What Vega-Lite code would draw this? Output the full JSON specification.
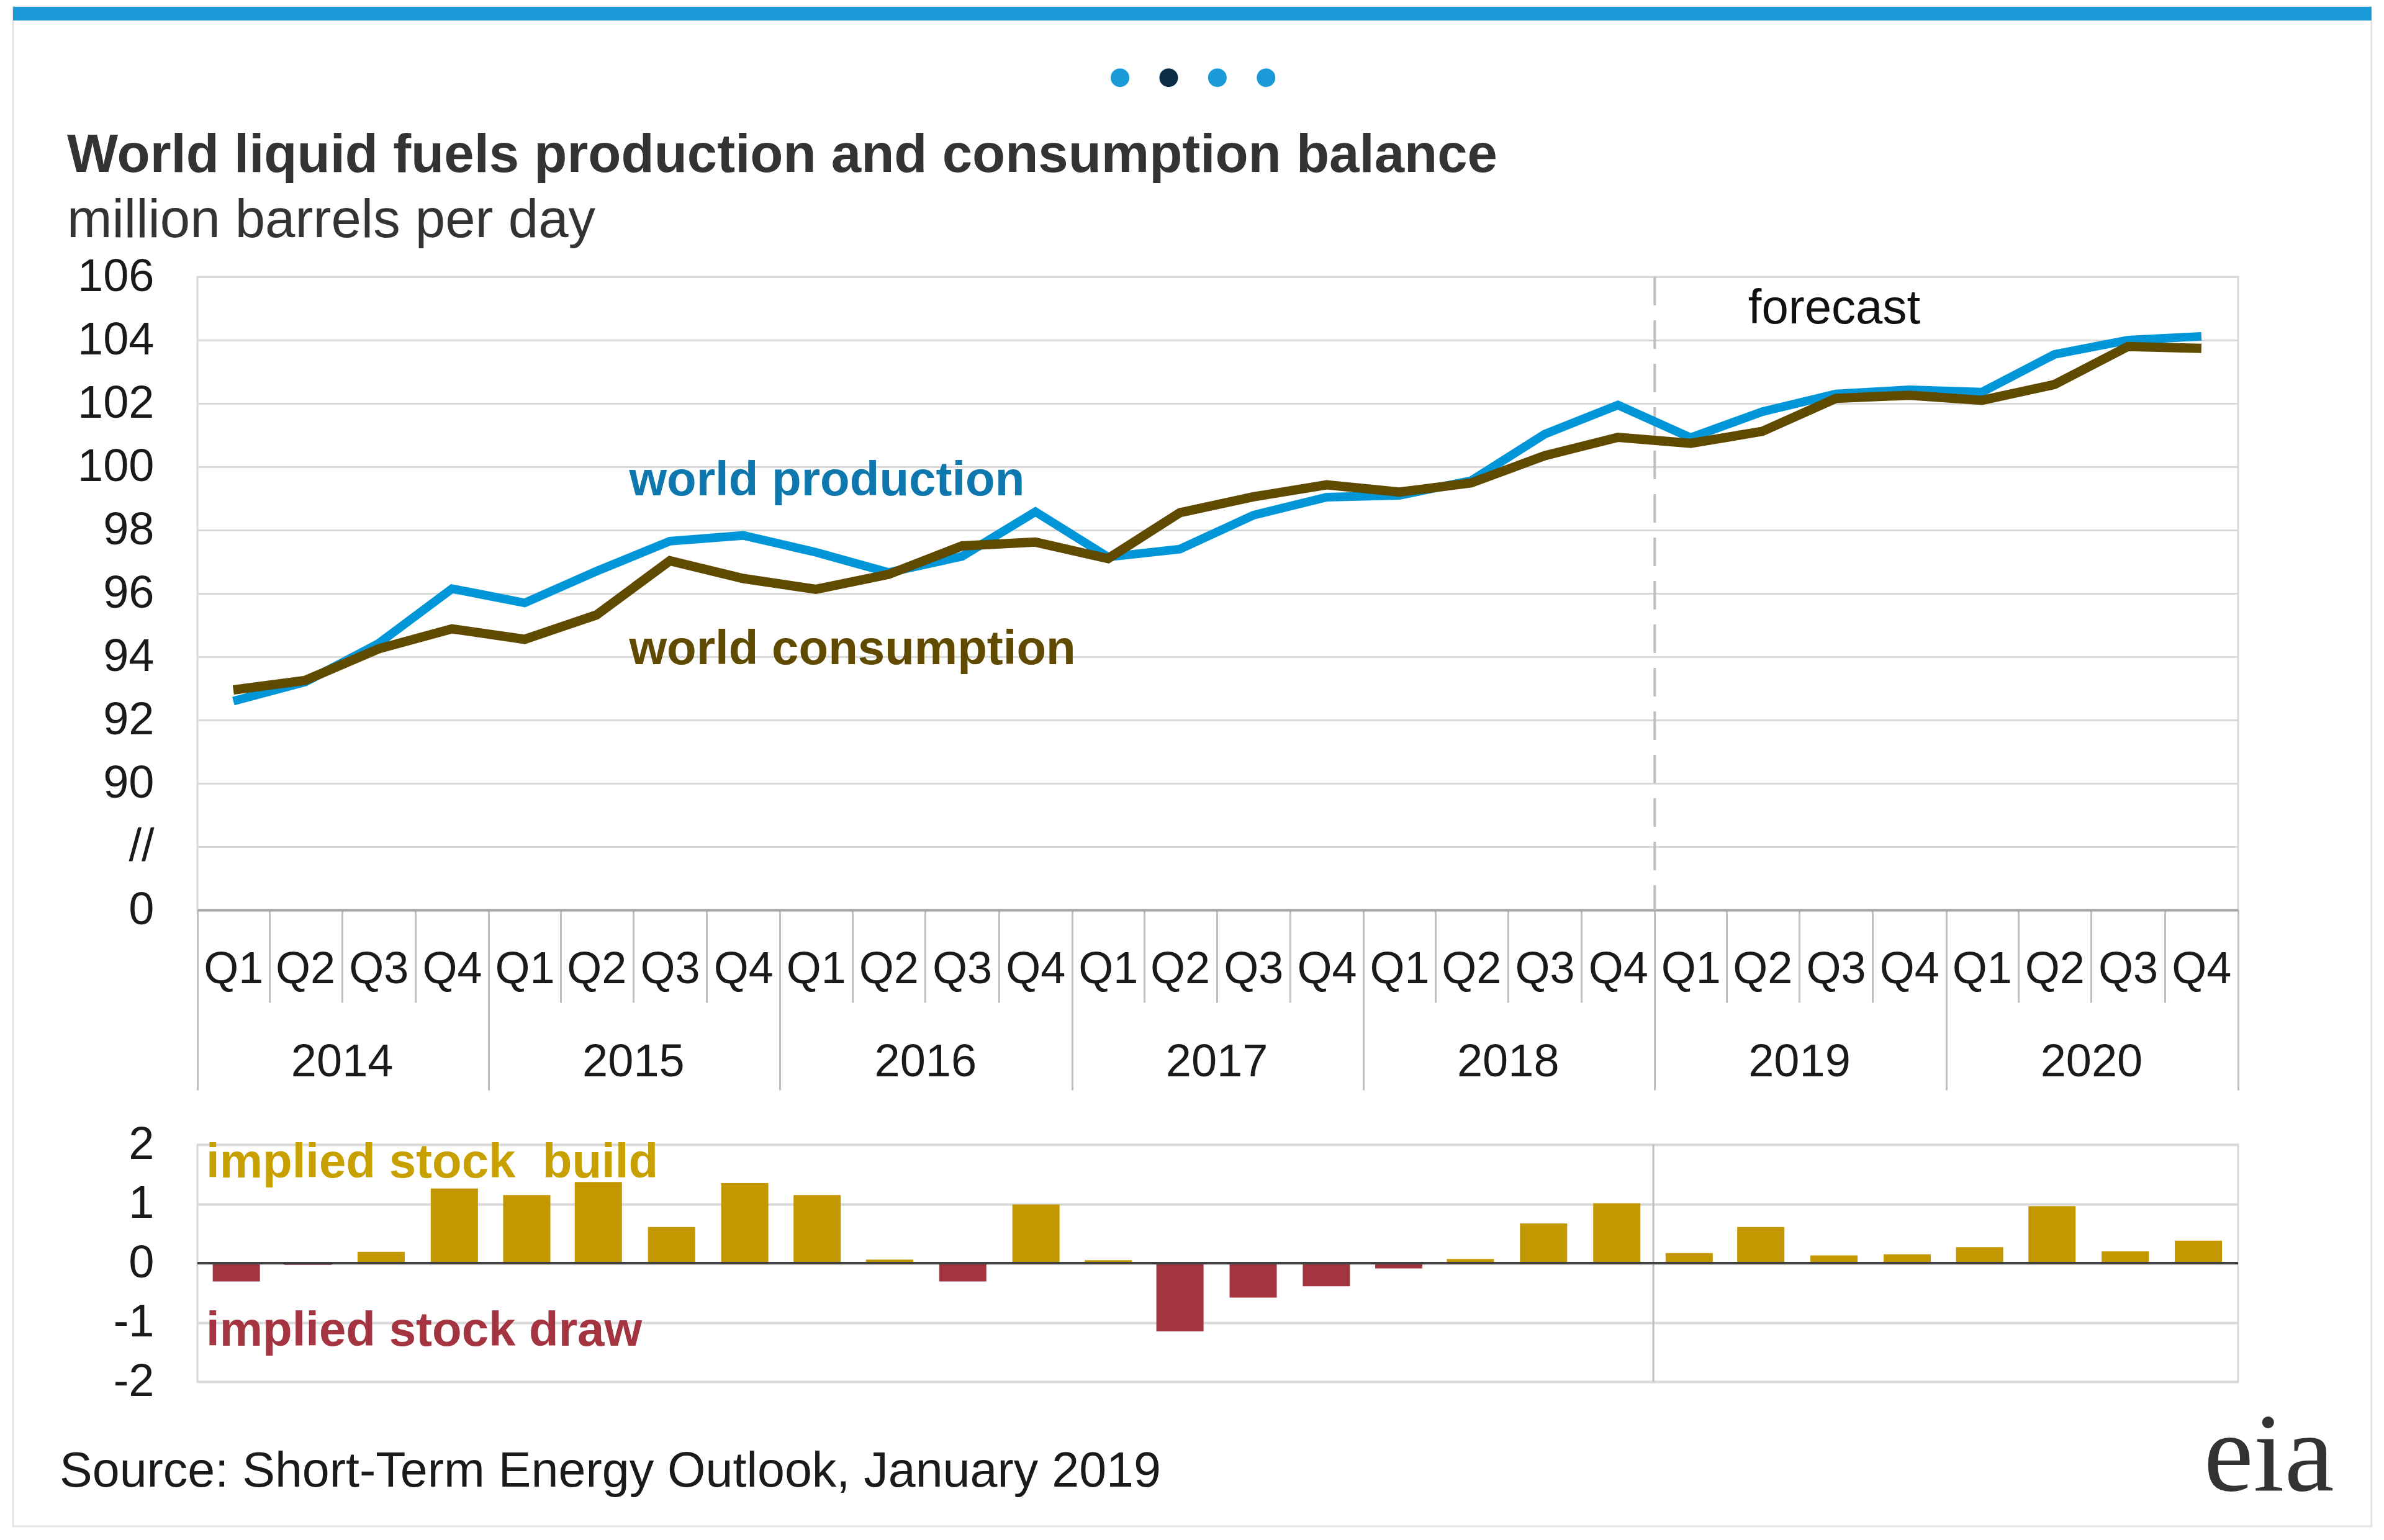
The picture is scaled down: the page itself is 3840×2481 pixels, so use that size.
{
  "$schema": "https://vega.github.io/schema/vega-lite/v6.json",
  "padding": {"left": 18, "top": 7, "right": 0, "bottom": 0},
  "background": "white",
  "config": {"font": "Liberation Sans"},
  "datasets": {
    "quarters": [
      {"date": "2014-02-15", "production": 92.6, "consumption": 92.95, "balance": -0.31},
      {"date": "2014-05-16", "production": 93.2, "consumption": 93.25, "balance": -0.03},
      {"date": "2014-08-16", "production": 94.42, "consumption": 94.25, "balance": 0.19},
      {"date": "2014-11-16", "production": 96.15, "consumption": 94.88, "balance": 1.26},
      {"date": "2015-02-15", "production": 95.7, "consumption": 94.55, "balance": 1.15},
      {"date": "2015-05-16", "production": 96.7, "consumption": 95.32, "balance": 1.37},
      {"date": "2015-08-16", "production": 97.65, "consumption": 97.03, "balance": 0.61},
      {"date": "2015-11-16", "production": 97.83, "consumption": 96.47, "balance": 1.35},
      {"date": "2016-02-15", "production": 97.3, "consumption": 96.13, "balance": 1.15},
      {"date": "2016-05-16", "production": 96.66, "consumption": 96.6, "balance": 0.06},
      {"date": "2016-08-16", "production": 97.17, "consumption": 97.5, "balance": -0.31},
      {"date": "2016-11-16", "production": 98.58, "consumption": 97.62, "balance": 0.99},
      {"date": "2017-02-15", "production": 97.15, "consumption": 97.1, "balance": 0.05},
      {"date": "2017-05-16", "production": 97.4, "consumption": 98.55, "balance": -1.15},
      {"date": "2017-08-16", "production": 98.47, "consumption": 99.05, "balance": -0.58},
      {"date": "2017-11-16", "production": 99.04, "consumption": 99.43, "balance": -0.39},
      {"date": "2018-02-15", "production": 99.1, "consumption": 99.2, "balance": -0.09},
      {"date": "2018-05-16", "production": 99.56, "consumption": 99.49, "balance": 0.07},
      {"date": "2018-08-16", "production": 101.03, "consumption": 100.35, "balance": 0.67},
      {"date": "2018-11-16", "production": 101.95, "consumption": 100.93, "balance": 1.01},
      {"date": "2019-02-15", "production": 100.92, "consumption": 100.74, "balance": 0.17},
      {"date": "2019-05-16", "production": 101.74, "consumption": 101.12, "balance": 0.61},
      {"date": "2019-08-16", "production": 102.3, "consumption": 102.16, "balance": 0.13},
      {"date": "2019-11-16", "production": 102.43, "consumption": 102.26, "balance": 0.15},
      {"date": "2020-02-15", "production": 102.36, "consumption": 102.1, "balance": 0.27},
      {"date": "2020-05-16", "production": 103.55, "consumption": 102.6, "balance": 0.96},
      {"date": "2020-08-16", "production": 104.0, "consumption": 103.8, "balance": 0.2},
      {"date": "2020-11-16", "production": 104.12, "consumption": 103.74, "balance": 0.38}
    ]
  },
  "bounds": "flush",
  "spacing": 378,
  "vconcat": [
    {
      "width": 3287,
      "height": 1020,
      "view": {"stroke": "#d9d9d9", "strokeWidth": 3},
      "title": {
        "text": "World liquid fuels production and consumption balance",
        "subtitle": "million barrels per day",
        "orient": "top",
        "anchor": "start",
        "frame": "group",
        "dx": -210,
        "offset": -391,
        "font": "Liberation Sans",
        "fontSize": 87,
        "fontWeight": "bold",
        "color": "#333333",
        "subtitleFont": "Liberation Sans",
        "subtitleFontSize": 87,
        "subtitleColor": "#333333",
        "subtitlePadding": 18
      },
      "resolve": {"axis": {"x": "independent"}},
      "layer": [
        {
          "data": {"values": [{}]},
          "mark": {"type": "rect", "fillOpacity": 0, "stroke": "#e3e3e3", "strokeWidth": 3},
          "encoding": {
            "x": {"datum": {"year": 2013, "month": 5, "date": 15, "utc": true}, "type": "temporal", "scale": {"type": "utc", "domain": [{"year": 2014, "month": 1, "date": 1, "utc": true}, {"year": 2021, "month": 1, "date": 1, "utc": true}]}, "axis": null},
            "x2": {"datum": {"year": 2021, "month": 6, "date": 17, "utc": true}},
            "y": {"datum": 114.53, "type": "quantitative", "title": null},
            "y2": {"datum": 66.53}
          }
        },
        {
          "data": {"values": [{}]},
          "mark": {"type": "rect", "color": "#1a9bd7"},
          "encoding": {
            "x": {"datum": {"year": 2013, "month": 5, "date": 15, "utc": true}, "type": "temporal", "axis": null},
            "x2": {"datum": {"year": 2021, "month": 6, "date": 17, "utc": true}},
            "y": {"datum": 114.53, "type": "quantitative", "title": null},
            "y2": {"datum": 114.1}
          }
        },
        {
          "data": {"values": [{}]},
          "mark": {"type": "point", "filled": true, "size": 900, "color": "#1a9bd7", "opacity": 1},
          "encoding": {
            "x": {"datum": {"year": 2017, "month": 3, "date": 2, "utc": true}, "type": "temporal", "axis": null},
            "y": {"datum": 112.29, "type": "quantitative", "title": null}
          }
        },
        {
          "data": {"values": [{}]},
          "mark": {"type": "point", "filled": true, "size": 900, "color": "#0b2c45", "opacity": 1},
          "encoding": {
            "x": {"datum": {"year": 2017, "month": 5, "date": 2, "utc": true}, "type": "temporal", "axis": null},
            "y": {"datum": 112.29, "type": "quantitative", "title": null}
          }
        },
        {
          "data": {"values": [{}]},
          "mark": {"type": "point", "filled": true, "size": 900, "color": "#1a9bd7", "opacity": 1},
          "encoding": {
            "x": {"datum": {"year": 2017, "month": 7, "date": 2, "utc": true}, "type": "temporal", "axis": null},
            "y": {"datum": 112.29, "type": "quantitative", "title": null}
          }
        },
        {
          "data": {"values": [{}]},
          "mark": {"type": "point", "filled": true, "size": 900, "color": "#1a9bd7", "opacity": 1},
          "encoding": {
            "x": {"datum": {"year": 2017, "month": 9, "date": 1, "utc": true}, "type": "temporal", "axis": null},
            "y": {"datum": 112.29, "type": "quantitative", "title": null}
          }
        },
        {
          "data": {"values": [{}]},
          "mark": {"type": "rule", "color": "#bfbfbf", "strokeWidth": 4, "strokeDash": [46, 24]},
          "encoding": {
            "x": {
              "datum": {"year": 2019, "month": 1, "date": 1, "utc": true},
              "type": "temporal",
              "axis": {
                "orient": "bottom",
                "title": null,
                "values": [
                  {"year": 2014, "month": 1, "date": 1, "utc": true}, {"year": 2014, "month": 4, "date": 1, "utc": true}, {"year": 2014, "month": 7, "date": 1, "utc": true}, {"year": 2014, "month": 10, "date": 1, "utc": true},
                  {"year": 2015, "month": 1, "date": 1, "utc": true}, {"year": 2015, "month": 4, "date": 1, "utc": true}, {"year": 2015, "month": 7, "date": 1, "utc": true}, {"year": 2015, "month": 10, "date": 1, "utc": true},
                  {"year": 2016, "month": 1, "date": 1, "utc": true}, {"year": 2016, "month": 4, "date": 1, "utc": true}, {"year": 2016, "month": 7, "date": 1, "utc": true}, {"year": 2016, "month": 10, "date": 1, "utc": true},
                  {"year": 2017, "month": 1, "date": 1, "utc": true}, {"year": 2017, "month": 4, "date": 1, "utc": true}, {"year": 2017, "month": 7, "date": 1, "utc": true}, {"year": 2017, "month": 10, "date": 1, "utc": true},
                  {"year": 2018, "month": 1, "date": 1, "utc": true}, {"year": 2018, "month": 4, "date": 1, "utc": true}, {"year": 2018, "month": 7, "date": 1, "utc": true}, {"year": 2018, "month": 10, "date": 1, "utc": true},
                  {"year": 2019, "month": 1, "date": 1, "utc": true}, {"year": 2019, "month": 4, "date": 1, "utc": true}, {"year": 2019, "month": 7, "date": 1, "utc": true}, {"year": 2019, "month": 10, "date": 1, "utc": true},
                  {"year": 2020, "month": 1, "date": 1, "utc": true}, {"year": 2020, "month": 4, "date": 1, "utc": true}, {"year": 2020, "month": 7, "date": 1, "utc": true}, {"year": 2020, "month": 10, "date": 1, "utc": true},
                  {"year": 2021, "month": 1, "date": 1, "utc": true}
                ],
                "labels": false,
                "ticks": true,
                "tickSize": {"condition": {"test": "utcmonth(datum.value) === 0", "value": 290}, "value": 149},
                "tickColor": "#bfbfbf",
                "tickWidth": 3,
                "domain": false,
                "grid": false
              }
            }
          }
        },
        {
          "data": {"name": "quarters"},
          "mark": {"type": "line", "color": "#0096d7", "strokeWidth": 14, "strokeJoin": "miter"},
          "encoding": {
            "x": {
              "field": "date",
              "type": "temporal",
              "axis": {
                "orient": "bottom",
                "title": null,
                "values": [
                  {"year": 2014, "month": 2, "date": 15, "utc": true}, {"year": 2014, "month": 5, "date": 16, "utc": true}, {"year": 2014, "month": 8, "date": 16, "utc": true}, {"year": 2014, "month": 11, "date": 16, "utc": true},
                  {"year": 2015, "month": 2, "date": 15, "utc": true}, {"year": 2015, "month": 5, "date": 16, "utc": true}, {"year": 2015, "month": 8, "date": 16, "utc": true}, {"year": 2015, "month": 11, "date": 16, "utc": true},
                  {"year": 2016, "month": 2, "date": 15, "utc": true}, {"year": 2016, "month": 5, "date": 16, "utc": true}, {"year": 2016, "month": 8, "date": 16, "utc": true}, {"year": 2016, "month": 11, "date": 16, "utc": true},
                  {"year": 2017, "month": 2, "date": 15, "utc": true}, {"year": 2017, "month": 5, "date": 16, "utc": true}, {"year": 2017, "month": 8, "date": 16, "utc": true}, {"year": 2017, "month": 11, "date": 16, "utc": true},
                  {"year": 2018, "month": 2, "date": 15, "utc": true}, {"year": 2018, "month": 5, "date": 16, "utc": true}, {"year": 2018, "month": 8, "date": 16, "utc": true}, {"year": 2018, "month": 11, "date": 16, "utc": true},
                  {"year": 2019, "month": 2, "date": 15, "utc": true}, {"year": 2019, "month": 5, "date": 16, "utc": true}, {"year": 2019, "month": 8, "date": 16, "utc": true}, {"year": 2019, "month": 11, "date": 16, "utc": true},
                  {"year": 2020, "month": 2, "date": 15, "utc": true}, {"year": 2020, "month": 5, "date": 16, "utc": true}, {"year": 2020, "month": 8, "date": 16, "utc": true}, {"year": 2020, "month": 11, "date": 16, "utc": true}
                ],
                "labelExpr": "'Q' + (floor(utcmonth(datum.value) / 3) + 1)",
                "labelFontSize": 72,
                "labelColor": "#1a1a1a",
                "labelPadding": 60,
                "labelAngle": 0,
                "labelOverlap": false,
                "labelFlush": false,
                "ticks": false,
                "tickSize": 0,
                "grid": false,
                "domain": true,
                "domainColor": "#a6a6a6",
                "domainWidth": 4
              }
            },
            "y": {
              "field": "production",
              "type": "quantitative",
              "title": null,
              "scale": {"domain": [86, 106], "nice": false, "zero": false},
              "axis": {
                "values": [86, 88, 90, 92, 94, 96, 98, 100, 102, 104, 106],
                "labelExpr": "datum.value == 86 ? '0' : datum.value == 88 ? '//' : '' + datum.value",
                "labelFontSize": 74,
                "labelColor": "#1a1a1a",
                "labelPadding": 70,
                "ticks": false,
                "tickSize": 0,
                "domain": false,
                "grid": true,
                "gridColor": "#d9d9d9",
                "gridWidth": 3
              }
            }
          }
        },
        {
          "data": {"name": "quarters"},
          "mark": {"type": "line", "color": "#5f4a00", "strokeWidth": 15, "strokeJoin": "miter"},
          "encoding": {
            "x": {"field": "date", "type": "temporal", "axis": null},
            "y": {"field": "consumption", "type": "quantitative", "title": null}
          }
        },
        {
          "data": {"values": [{}]},
          "mark": {"type": "text", "text": "world production", "align": "left", "baseline": "alphabetic", "fontSize": 78, "fontWeight": "bold", "color": "#0e77ad"},
          "encoding": {
            "x": {"datum": {"year": 2015, "month": 6, "date": 26, "utc": true}, "type": "temporal", "axis": null},
            "y": {"datum": 99.1, "type": "quantitative", "title": null}
          }
        },
        {
          "data": {"values": [{}]},
          "mark": {"type": "text", "text": "world consumption", "align": "left", "baseline": "alphabetic", "fontSize": 78, "fontWeight": "bold", "color": "#5f4a00"},
          "encoding": {
            "x": {"datum": {"year": 2015, "month": 6, "date": 26, "utc": true}, "type": "temporal", "axis": null},
            "y": {"datum": 93.76, "type": "quantitative", "title": null}
          }
        },
        {
          "data": {"values": [{}]},
          "mark": {"type": "text", "text": "forecast", "align": "left", "baseline": "alphabetic", "fontSize": 78, "color": "#111111"},
          "encoding": {
            "x": {
              "datum": {"year": 2019, "month": 4, "date": 28, "utc": true},
              "type": "temporal",
              "axis": {
                "orient": "bottom",
                "title": null,
                "values": [
                  {"year": 2014, "month": 7, "date": 1, "utc": true}, {"year": 2015, "month": 7, "date": 1, "utc": true}, {"year": 2016, "month": 7, "date": 1, "utc": true},
                  {"year": 2017, "month": 7, "date": 1, "utc": true}, {"year": 2018, "month": 7, "date": 1, "utc": true}, {"year": 2019, "month": 7, "date": 1, "utc": true},
                  {"year": 2020, "month": 7, "date": 1, "utc": true}
                ],
                "labelExpr": "'' + utcyear(datum.value)",
                "labelFontSize": 74,
                "labelColor": "#1a1a1a",
                "labelPadding": 209,
                "labelAngle": 0,
                "labelOverlap": false,
                "labelFlush": false,
                "ticks": false,
                "tickSize": 0,
                "domain": false,
                "grid": false
              }
            },
            "y": {"datum": 104.53, "type": "quantitative", "title": null}
          }
        },
        {
          "data": {"values": [{}]},
          "mark": {"type": "text", "text": "eia", "align": "left", "baseline": "alphabetic", "font": "Liberation Serif", "fontSize": 180, "color": "#333333"},
          "encoding": {
            "x": {"datum": {"year": 2020, "month": 11, "date": 19, "utc": true}, "type": "temporal", "axis": null},
            "y": {"datum": 67.67, "type": "quantitative", "title": null}
          }
        }
      ]
    },
    {
      "width": 3287,
      "height": 382,
      "view": {"stroke": "#d9d9d9", "strokeWidth": 3},
      "title": {
        "text": "Source: Short-Term Energy Outlook, January 2019",
        "orient": "bottom",
        "anchor": "start",
        "frame": "group",
        "dx": -222,
        "offset": 70,
        "font": "Liberation Sans",
        "fontSize": 79,
        "fontWeight": "normal",
        "color": "#1a1a1a"
      },
      "layer": [
        {
          "data": {"values": [{}]},
          "mark": {"type": "rule", "color": "#bfbfbf", "strokeWidth": 3},
          "encoding": {
            "x": {"datum": {"year": 2019, "month": 1, "date": 1, "utc": true}, "type": "temporal", "scale": {"type": "utc", "domain": [{"year": 2014, "month": 1, "date": 1, "utc": true}, {"year": 2021, "month": 1, "date": 1, "utc": true}]}, "axis": null}
          }
        },
        {
          "data": {"name": "quarters"},
          "mark": {"type": "bar", "size": 76},
          "encoding": {
            "x": {"field": "date", "type": "temporal", "axis": null},
            "y": {
              "field": "balance",
              "type": "quantitative",
              "title": null,
              "scale": {"domain": [-2, 2], "nice": false, "zero": true},
              "axis": {
                "values": [-2, -1, 0, 1, 2],
                "labelExpr": "'' + datum.value",
                "labelFontSize": 74,
                "labelColor": "#1a1a1a",
                "labelPadding": 70,
                "ticks": false,
                "tickSize": 0,
                "domain": false,
                "grid": true,
                "gridColor": "#d9d9d9",
                "gridWidth": 4
              }
            },
            "color": {"condition": {"test": "datum.balance < 0", "value": "#a4343f"}, "value": "#c29700"}
          }
        },
        {
          "data": {"values": [{}]},
          "mark": {"type": "rule", "color": "#404040", "strokeWidth": 4},
          "encoding": {
            "y": {"datum": 0, "type": "quantitative", "title": null}
          }
        },
        {
          "data": {"values": [{}]},
          "mark": {"type": "text", "text": "implied stock\u00a0 build", "align": "left", "baseline": "alphabetic", "fontSize": 78, "fontWeight": "bold", "color": "#c8a000"},
          "encoding": {
            "x": {"datum": {"year": 2014, "month": 1, "date": 8, "utc": true}, "type": "temporal", "axis": null},
            "y": {"datum": 1.445, "type": "quantitative", "title": null}
          }
        },
        {
          "data": {"values": [{}]},
          "mark": {"type": "text", "text": "implied stock draw", "align": "left", "baseline": "alphabetic", "fontSize": 78, "fontWeight": "bold", "color": "#a4343f"},
          "encoding": {
            "x": {"datum": {"year": 2014, "month": 1, "date": 8, "utc": true}, "type": "temporal", "axis": null},
            "y": {"datum": -1.393, "type": "quantitative", "title": null}
          }
        }
      ]
    }
  ]
}
